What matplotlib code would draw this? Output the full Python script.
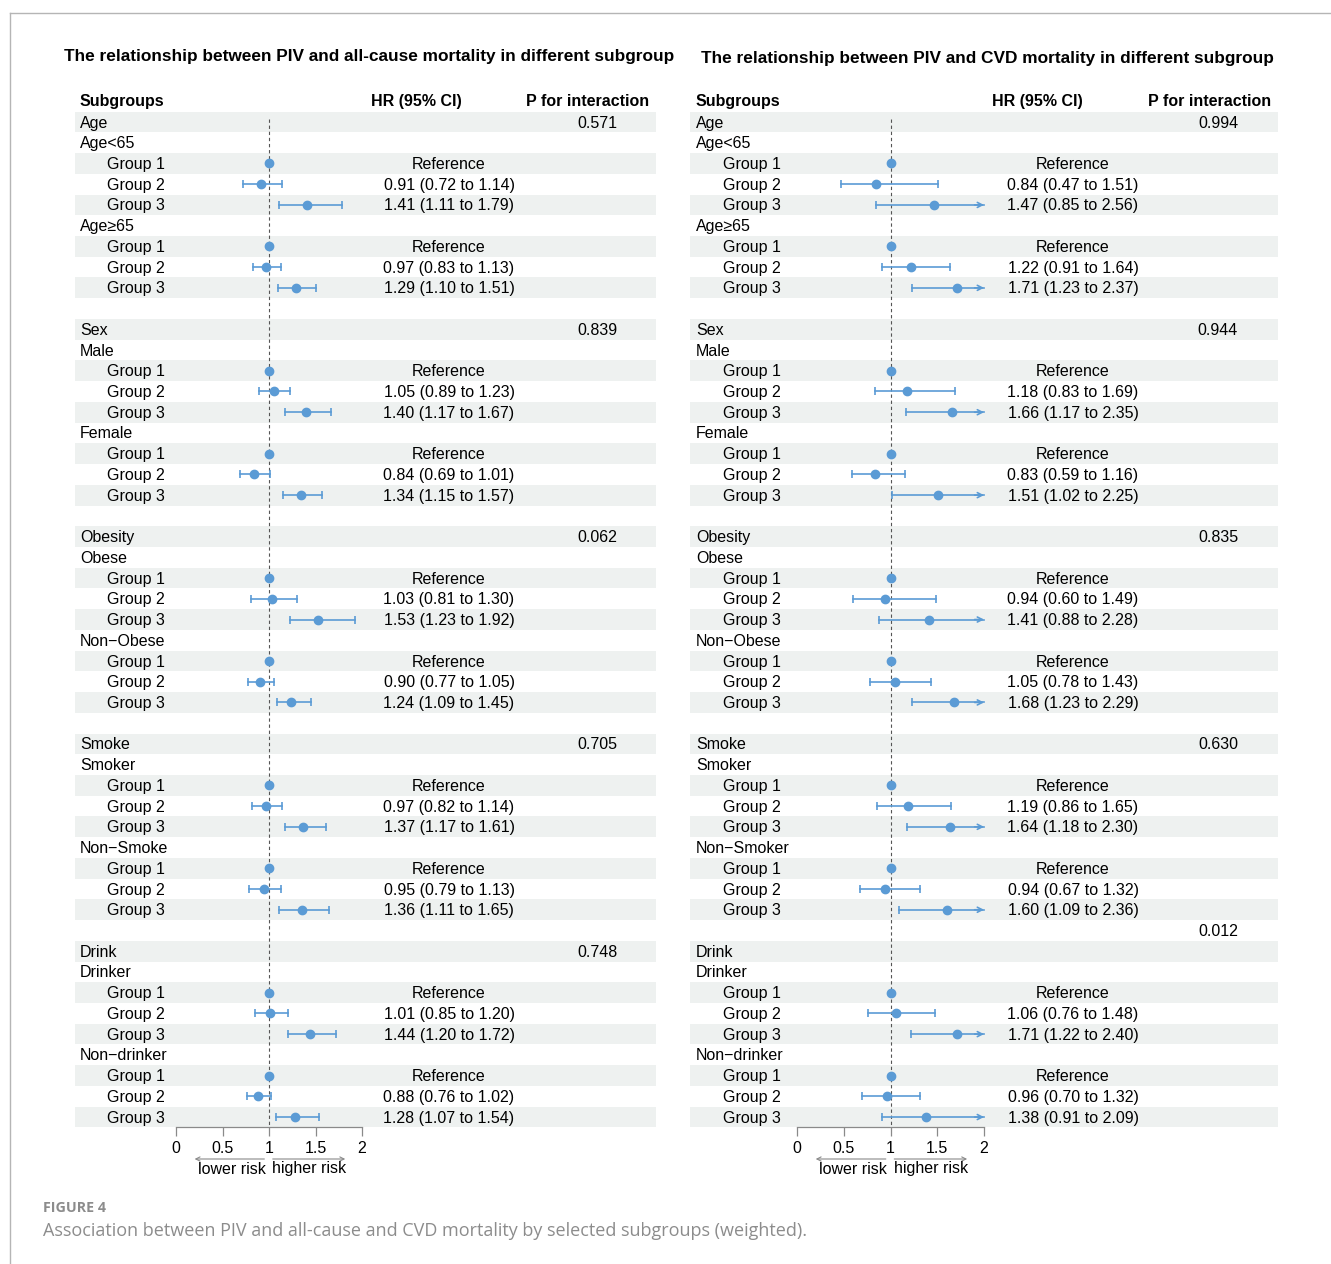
import matplotlib
matplotlib.use("Agg")
import matplotlib.pyplot as plt
from matplotlib.lines import Line2D

plt.rcParams["font.family"] = ["Liberation Sans", "DejaVu Sans"]

# ---- data -------------------------------------------------------------
sections = ["Age", "Sex", "Obesity", "Smoke", "Drink"]
groups = ["Group 1", "Group 2", "Group 3"]

strata_all = ["Age<65", "Age≥65", "Male", "Female", "Obese", "Non−Obese",
              "Smoker", "Non−Smoke", "Drinker", "Non−drinker"]
strata_cvd = ["Age<65", "Age≥65", "Male", "Female", "Obese", "Non−Obese",
              "Smoker", "Non−Smoker", "Drinker", "Non−drinker"]

# Group 2 / Group 3 estimates, per stratum (Group 1 = reference)
all_hr = [0.91, 1.41, 0.97, 1.29, 1.05, 1.40, 0.84, 1.34, 1.03, 1.53,
          0.90, 1.24, 0.97, 1.37, 0.95, 1.36, 1.01, 1.44, 0.88, 1.28]
all_lo = [0.72, 1.11, 0.83, 1.10, 0.89, 1.17, 0.69, 1.15, 0.81, 1.23,
          0.77, 1.09, 0.82, 1.17, 0.79, 1.11, 0.85, 1.20, 0.76, 1.07]
all_hi = [1.14, 1.79, 1.13, 1.51, 1.23, 1.67, 1.01, 1.57, 1.30, 1.92,
          1.05, 1.45, 1.14, 1.61, 1.13, 1.65, 1.20, 1.72, 1.02, 1.54]
all_p = ["0.571", "0.839", "0.062", "0.705", "0.748"]
all_p_shift = [0, 0, 0, 0, 0]

cvd_hr = [0.84, 1.47, 1.22, 1.71, 1.18, 1.66, 0.83, 1.51, 0.94, 1.41,
          1.05, 1.68, 1.19, 1.64, 0.94, 1.60, 1.06, 1.71, 0.96, 1.38]
cvd_lo = [0.47, 0.85, 0.91, 1.23, 0.83, 1.17, 0.59, 1.02, 0.60, 0.88,
          0.78, 1.23, 0.86, 1.18, 0.67, 1.09, 0.76, 1.22, 0.70, 0.91]
cvd_hi = [1.51, 2.56, 1.64, 2.37, 1.69, 2.35, 1.16, 2.25, 1.49, 2.28,
          1.43, 2.29, 1.65, 2.30, 1.32, 2.36, 1.48, 2.40, 1.32, 2.09]
cvd_p = ["0.994", "0.944", "0.835", "0.630", "0.012"]
cvd_p_shift = [0, 0, 0, 0, -1]

xticks = [0, 0.5, 1, 1.5, 2]
xticklabels = ["0", "0.5", "1", "1.5", "2"]

# ---- layout -----------------------------------------------------------
W, H = 1331, 1264
ROW0, ROWH = 122, 20.73
BLUE = "#5b9bd5"
SHADE = "#eef1f0"
FS = 11.5
DY = 0.05  # small downward nudge for row text

fig = plt.figure(figsize=(W / 100, H / 100), dpi=100)


def build_rows(strata, hr, lo, hi, pvals, pshift):
    rows = []
    k = 0
    for i, sec in enumerate(sections):
        rows.append(["head", sec, ""])
        for j in range(2):
            rows.append(["strat", strata[2 * i + j], ""])
            rows.append(["group", groups[0], None])
            for g in range(2):
                rows.append(["group", groups[g + 1], (hr[k], lo[k], hi[k])])
                k += 1
        if i < len(sections) - 1:
            rows.append(["blank", "", ""])
    heads = [n for n, r in enumerate(rows) if r[0] == "head"]
    pcol = {heads[i] + pshift[i]: pvals[i] for i in range(len(sections))}
    return rows, pcol


def panel(title, title_xy, strata, hr, lo, hi, pvals, pshift,
          left, right, zero, unit, lab_px, hr_px, p_px, hrhead_px, phead_px):
    rows, pcol = build_rows(strata, hr, lo, hi, pvals, pshift)
    n = len(rows)
    top = ROW0 - ROWH / 2
    bot = ROW0 + (n - 0.5) * ROWH
    ax = fig.add_axes([left / W, 1 - bot / H, (right - left) / W, (bot - top) / H])
    ax.set_xlim((left - zero) / unit, (right - zero) / unit)
    ax.set_ylim(n - 0.5, -0.5)

    def X(px):
        return (px - zero) / unit

    for i in range(0, n, 2):
        ax.axhspan(i - 0.5, i + 0.5, color=SHADE, lw=0, zorder=0)

    ax.vlines(1, -0.15, n - 0.5, colors="#555555", linestyles=(0, (3, 2.5)),
              lw=0.8, zorder=1)

    for i, (kind, label, est) in enumerate(rows):
        xl = X(lab_px + 27) if kind == "group" else X(lab_px)
        ax.text(xl, i + DY, label, fontsize=FS, va="center", ha="left")
        if i in pcol:
            ax.text(X(p_px), i + DY, pcol[i], fontsize=FS, va="center", ha="center")
        if kind != "group":
            continue
        if est is None:
            ax.plot(1, i, "o", color=BLUE, ms=6, zorder=3)
            ax.text(X(hr_px), i + DY, "Reference", fontsize=FS, va="center", ha="center")
            continue
        h, l, u = est
        ax.plot([l, min(u, 2)], [i, i], color=BLUE, lw=1.2, zorder=2)
        ax.plot(l, i, marker="|", color=BLUE, ms=6, mew=1.2, zorder=2)
        if u <= 2:
            ax.plot(u, i, marker="|", color=BLUE, ms=6, mew=1.2, zorder=2)
        else:
            ax.annotate("", xy=(2, i), xytext=(1.9, i),
                        arrowprops=dict(arrowstyle="->,head_length=0.35,head_width=0.18",
                                        color=BLUE, lw=1.2, shrinkA=0, shrinkB=0))
        ax.plot(h, i, "o", color=BLUE, ms=6, zorder=3)
        ax.text(X(hr_px), i + DY, f"{h:.2f} ({l:.2f} to {u:.2f})", fontsize=FS,
                va="center", ha="center")

    # header row
    yh = -(ROW0 - 100) / ROWH + DY
    ax.text(X(lab_px), yh, "Subgroups", fontsize=FS, weight="bold",
            va="center", ha="left", clip_on=False)
    ax.text(X(hrhead_px), yh, "HR (95% CI)", fontsize=FS, weight="bold",
            va="center", ha="center", clip_on=False)
    ax.text(X(phead_px), yh, "P for interaction", fontsize=FS, weight="bold",
            va="center", ha="center", clip_on=False)

    # x axis
    for s in ["left", "right", "top"]:
        ax.spines[s].set_visible(False)
    ax.spines["bottom"].set_bounds(0, 2)
    ax.spines["bottom"].set_color("#8a8a8a")
    ax.spines["bottom"].set_linewidth(0.9)
    ax.set_yticks([])
    ax.set_xticks(xticks)
    ax.set_xticklabels(xticklabels)
    ax.tick_params(axis="x", length=6.5, width=0.9, color="#8a8a8a",
                   labelsize=FS, pad=3.5)

    def yf(px):
        return (bot - px) / (bot - top)

    tr = ax.get_xaxis_transform()
    arrow = dict(arrowstyle="->,head_length=0.3,head_width=0.15",
                 color="#8a8a8a", lw=0.8, shrinkA=0, shrinkB=0)
    ax.annotate("", xy=(0.2, yf(1159)), xytext=(0.95, yf(1159)), xycoords=tr,
                textcoords=tr, arrowprops=arrow, annotation_clip=False)
    ax.annotate("", xy=(1.82, yf(1159)), xytext=(1.04, yf(1159)), xycoords=tr,
                textcoords=tr, arrowprops=arrow, annotation_clip=False)
    ax.text(0.965, yf(1169), "lower risk", transform=tr, fontsize=FS,
            ha="right", va="center")
    ax.text(1.035, yf(1169), "higher risk", transform=tr, fontsize=FS,
            ha="left", va="center")

    fig.text(title_xy[0] / W, 1 - title_xy[1] / H, title, fontsize=12.4,
             weight="bold", ha="center", va="center")
    return ax


panel("The relationship between PIV and all-cause mortality in different subgroup",
      (369, 57), strata_all, all_hr, all_lo, all_hi, all_p, all_p_shift,
      left=75, right=656, zero=176, unit=93, lab_px=80, hr_px=449, p_px=597,
      hrhead_px=416, phead_px=588)
panel("The relationship between PIV and CVD mortality in different subgroup",
      (987, 59), strata_cvd, cvd_hr, cvd_lo, cvd_hi, cvd_p, cvd_p_shift,
      left=690, right=1278, zero=797, unit=93.5, lab_px=696, hr_px=1073, p_px=1218,
      hrhead_px=1037, phead_px=1210)

# frame and caption
fig.add_artist(Line2D([10 / W, 1], [1 - 13 / H, 1 - 13 / H], color="#b5b5b5", lw=1))
fig.add_artist(Line2D([10 / W, 10 / W], [0, 1 - 13 / H], color="#b5b5b5", lw=1))
fig.text(43 / W, 1 - 1208 / H, "FIGURE 4", fontsize=10.3, weight="bold",
         color="#8c8c8c", family="Open Sans", va="center", ha="left")
fig.text(43 / W, 1 - 1231 / H,
         "Association between PIV and all-cause and CVD mortality by selected subgroups (weighted).",
         fontsize=13, color="#8c8c8c", family="Open Sans", va="center", ha="left")

fig.savefig("out.png", dpi=100)
